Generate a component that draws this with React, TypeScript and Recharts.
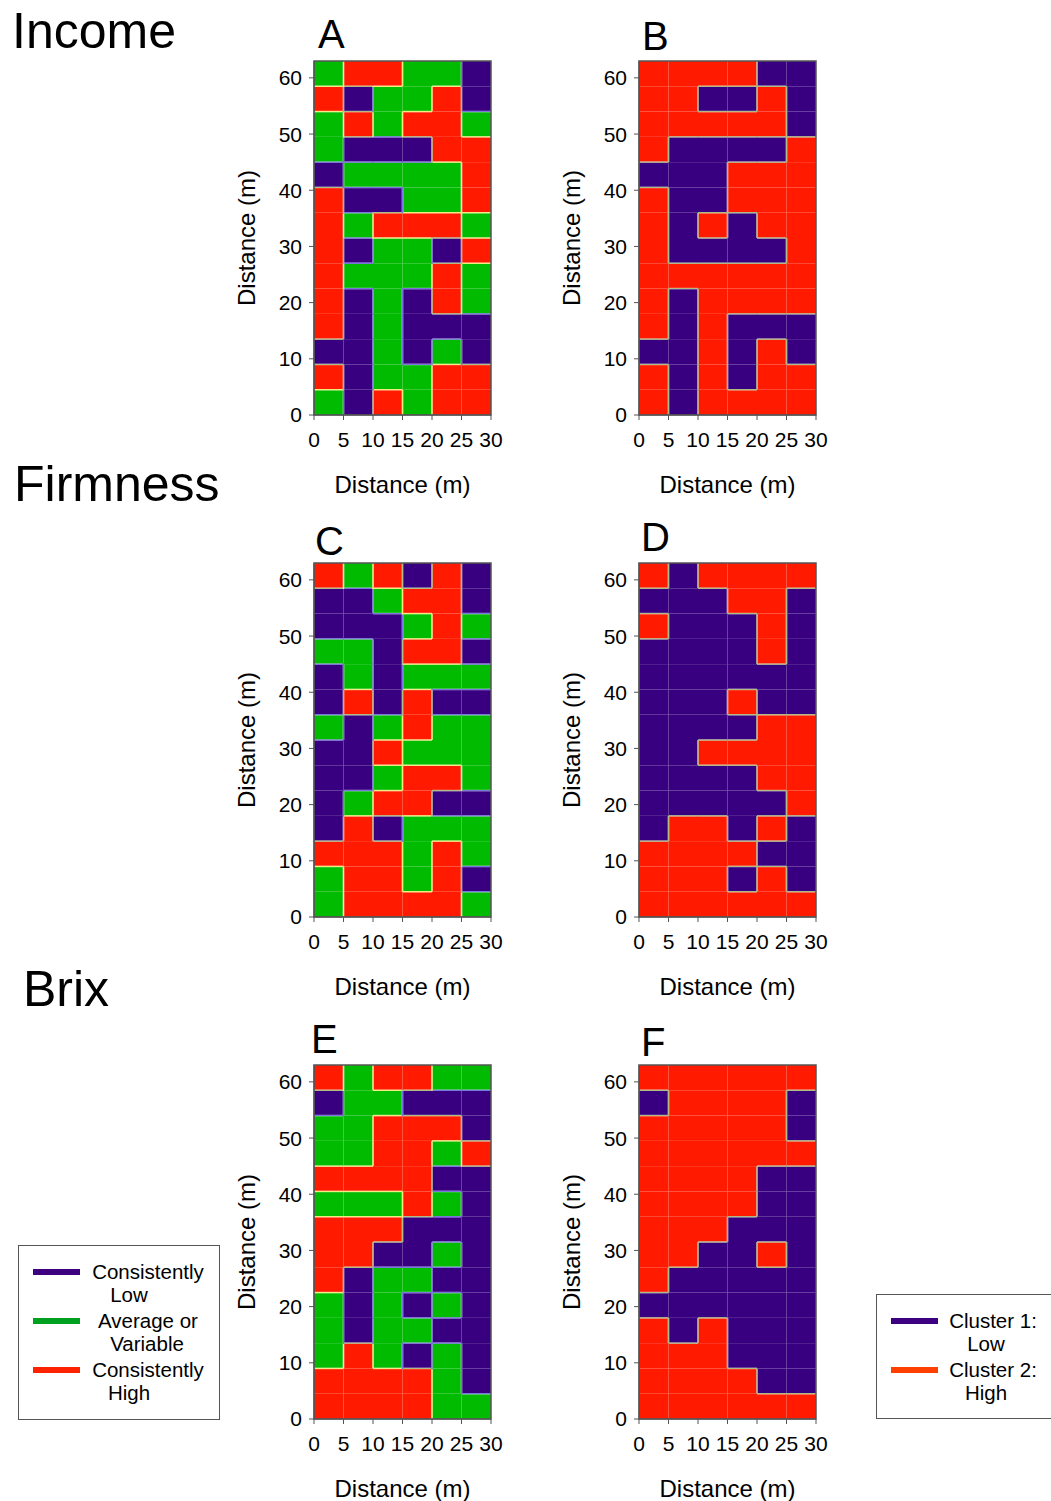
import { ScatterChart, Scatter, XAxis, YAxis, ReferenceArea } from 'recharts';

// codes: L = consistently low / cluster 1, A = average or variable, H = consistently high / cluster 2
// each string is one 4.5 m row, listed from the top row (58.5-63 m) down to the bottom row (0-4.5 m)
const incomeMeans = ['AHHAAL', 'HLAAHL', 'AHAHHA', 'ALLLHH', 'LAAAAH', 'HLLAAH', 'HAHHHA', 'HLAALH', 'HAAAHA', 'HLALHA', 'HLALLL', 'LLALAL', 'HLAAHH', 'ALHAHH'];
const incomeClusters = ['HHHHLL', 'HHLLHL', 'HHHHHL', 'HLLLLH', 'LLLHHH', 'HLLHHH', 'HLHLHH', 'HLLLLH', 'HHHHHH', 'HLHHHH', 'HLHLLL', 'LLHLHL', 'HLHLHH', 'HLHHHH'];
const firmnessMeans = ['HAHLHL', 'LLAHHL', 'LLLAHA', 'AALHHL', 'LALAAA', 'LHLHLL', 'ALAHAA', 'LLHAAA', 'LLAHHA', 'LAHHLL', 'LHLAAA', 'HHHAHA', 'AHHAHL', 'AHHHHA'];
const firmnessClusters = ['HLHHHH', 'LLLHHL', 'HLLLHL', 'LLLLHL', 'LLLLLL', 'LLLHLL', 'LLLLHH', 'LLHHHH', 'LLLLHH', 'LLLLLH', 'LHHLHL', 'HHHHLL', 'HHHLHL', 'HHHHHH'];
const brixMeans = ['HAHHAA', 'LAALLL', 'AAHHHL', 'AAHHAH', 'HHHHLL', 'AAAHAL', 'HHHLLL', 'HHLLAL', 'HLAALL', 'ALALAL', 'ALAALL', 'AHALAL', 'HHHHAL', 'HHHHAA'];
const brixClusters = ['HHHHHH', 'LHHHHL', 'HHHHHL', 'HHHHHH', 'HHHHLL', 'HHHHLL', 'HHHLLL', 'HHLLHL', 'HLLLLL', 'LLLLLL', 'HLHLLL', 'HHHLLL', 'HHHHLL', 'HHHHHH'];

const CELL_W = 5;
const CELL_H = 4.5;
const xTicks = [0, 5, 10, 15, 20, 25, 30];
const yTicks = [0, 10, 20, 30, 40, 50, 60];

const meanLegend = [
  { code: 'L', lines: ['Consistently', 'Low'] },
  { code: 'A', lines: ['Average or', 'Variable'] },
  { code: 'H', lines: ['Consistently', 'High'] },
];
const clusterLegend = [
  { code: 'L', lines: ['Cluster 1:', 'Low'] },
  { code: 'H', lines: ['Cluster 2:', 'High'] },
];

const COLORS: Record<string, string> = { L: '#380080', A: '#00bb00', H: '#ff1a00' };
const EDGE: Record<string, string> = { AL: '#7878e0', LA: '#7878e0', AH: '#f4ec7c', HA: '#f4ec7c', LH: '#b0bc84', HL: '#b0bc84' };
const FONT = '"Liberation Sans", Arial, sans-serif';
const HALF = 0.13; // half thickness of a boundary strip, in data units

const toCells = (rows: string[]) => {
  const n = rows.length;
  const m = rows[0].length;
  const at = (c: number, r: number) => rows[n - 1 - r][c];
  const cells: { x: number; y: number; code: string; x1: number; x2: number; y1: number; y2: number }[] = [];
  for (let r = 0; r < n; r++) {
    for (let c = 0; c < m; c++) {
      const code = at(c, r);
      // leave a thin gap on every side that borders another class, the boundary strip fills it
      const gl = c > 0 && at(c - 1, r) !== code ? HALF : 0;
      const gr = c + 1 < m && at(c + 1, r) !== code ? HALF : 0;
      const gb = r > 0 && at(c, r - 1) !== code ? HALF : 0;
      const gt = r + 1 < n && at(c, r + 1) !== code ? HALF : 0;
      cells.push({
        x: c * CELL_W + CELL_W / 2,
        y: r * CELL_H + CELL_H / 2,
        code,
        x1: c * CELL_W + gl,
        x2: (c + 1) * CELL_W - gr,
        y1: r * CELL_H + gb,
        y2: (r + 1) * CELL_H - gt,
      });
    }
  }
  return cells;
};

// boundaries between neighbouring cells of a different class
const toEdges = (rows: string[]) => {
  const n = rows.length;
  const m = rows[0].length;
  const at = (c: number, r: number) => rows[n - 1 - r][c];
  const edges: { x1: number; y1: number; x2: number; y2: number; pair: string }[] = [];
  for (let r = 0; r < n; r++) {
    for (let c = 0; c < m; c++) {
      if (c + 1 < m && at(c, r) !== at(c + 1, r)) {
        const bx = (c + 1) * CELL_W;
        edges.push({ x1: bx - HALF, x2: bx + HALF, y1: r * CELL_H - HALF, y2: (r + 1) * CELL_H + HALF, pair: at(c, r) + at(c + 1, r) });
      }
      if (r + 1 < n && at(c, r) !== at(c, r + 1)) {
        const by = (r + 1) * CELL_H;
        edges.push({ x1: c * CELL_W - HALF, x2: (c + 1) * CELL_W + HALF, y1: by - HALF, y2: by + HALF, pair: at(c, r) + at(c, r + 1) });
      }
    }
  }
  return edges;
};

const GridPanel = ({ rows, left, top }: { rows: string[]; left: number; top: number }) => {
  const cells = toCells(rows);
  const edges = toEdges(rows);
  const yMax = rows.length * CELL_H;
  const xMax = rows[0].length * CELL_W;
  return (
    <div style={{ position: 'absolute', left, top }}>
      <ScatterChart width={281} height={465} margin={{ top: 21, right: 20, bottom: 10, left: 0 }}>
        <XAxis
          type="number"
          dataKey="x"
          domain={[0, xMax]}
          ticks={xTicks}
          height={80}
          tickSize={5}
          tickMargin={12}
          interval={0}
          stroke="#555"
          tick={{ fill: '#000', fontSize: 21 }}
          label={{ value: 'Distance (m)', position: 'insideBottom', offset: 2, style: { fill: '#000', fontSize: 24 } }}
        />
        <YAxis
          type="number"
          dataKey="y"
          domain={[0, yMax]}
          ticks={yTicks}
          width={84}
          tickSize={5}
          tickMargin={7}
          interval={0}
          stroke="#555"
          tick={{ fill: '#000', fontSize: 21 }}
          label={{ value: 'Distance (m)', angle: -90, position: 'center', dx: -26, style: { fill: '#000', fontSize: 24, textAnchor: 'middle' } }}
        />
        {edges.map((e, i) => (
          <ReferenceArea
            key={`e${i}`}
            x1={e.x1}
            x2={e.x2}
            y1={e.y1}
            y2={e.y2}
            fill={EDGE[e.pair]}
            fillOpacity={1}
            stroke="none"
            ifOverflow="hidden"
          />
        ))}
        {cells.map((d, i) => (
          <ReferenceArea
            key={`c${i}`}
            x1={d.x1}
            x2={d.x2}
            y1={d.y1}
            y2={d.y2}
            fill={COLORS[d.code]}
            fillOpacity={1}
            stroke="none"
          />
        ))}
        <ReferenceArea x1={0} x2={xMax} y1={0} y2={yMax} fill="none" fillOpacity={0} stroke="#555" strokeWidth={1.5} />
        <Scatter data={cells} isAnimationActive={false} shape={() => <g />} />
      </ScatterChart>
    </div>
  );
};

const panels = [
  { rows: incomeMeans, letter: 'A', left: 230, top: 40, lx: 318, ly: 48 },
  { rows: incomeClusters, letter: 'B', left: 555, top: 40, lx: 642, ly: 50 },
  { rows: firmnessMeans, letter: 'C', left: 230, top: 542, lx: 315, ly: 555 },
  { rows: firmnessClusters, letter: 'D', left: 555, top: 542, lx: 641, ly: 551 },
  { rows: brixMeans, letter: 'E', left: 230, top: 1044, lx: 311, ly: 1053 },
  { rows: brixClusters, letter: 'F', left: 555, top: 1044, lx: 641, ly: 1056 },
];

const titles = [
  { text: 'Income', x: 12, y: 48 },
  { text: 'Firmness', x: 14, y: 501 },
  { text: 'Brix', x: 23, y: 1006 },
];

export default function App() {
  return (
    <div style={{ position: 'absolute', left: 0, top: 0, width: 1051, height: 1501, background: '#fff', fontFamily: FONT }}>
      <svg width={1051} height={1501} style={{ position: 'absolute', left: 0, top: 0 }} fontFamily={FONT}>
        {titles.map((t) => (
          <text key={t.text} x={t.x} y={t.y} fontSize={50} fill="#000">{t.text}</text>
        ))}
        {panels.map((p) => (
          <text key={p.letter} x={p.lx} y={p.ly} fontSize={40} fill="#000">{p.letter}</text>
        ))}

        <rect x={18.5} y={1245.5} width={201} height={174} fill="#fff" stroke="#555" />
        {meanLegend.map((item, i) => (
          <g key={item.code}>
            <line x1={33} x2={80} y1={1272 + i * 49} y2={1272 + i * 49} stroke={item.code === 'A' ? '#00a020' : item.code === 'L' ? '#3c0080' : '#ff2200'} strokeWidth={6} />
            <text x={148} y={1279 + i * 49} fontSize={20.5} textAnchor="middle" fill="#000">{item.lines[0]}</text>
            <text x={item.code === 'A' ? 147 : 129} y={1302 + i * 49} fontSize={20.5} textAnchor="middle" fill="#000">{item.lines[1]}</text>
          </g>
        ))}

        <rect x={876.5} y={1294.5} width={190} height={124} fill="#fff" stroke="#555" />
        {clusterLegend.map((item, i) => (
          <g key={item.code}>
            <line x1={891} x2={938} y1={1321 + i * 49} y2={1321 + i * 49} stroke={item.code === 'L' ? '#3c0080' : '#ff4000'} strokeWidth={6} />
            <text x={993} y={1328 + i * 49} fontSize={20.5} textAnchor="middle" fill="#000">{item.lines[0]}</text>
            <text x={986} y={1351 + i * 49} fontSize={20.5} textAnchor="middle" fill="#000">{item.lines[1]}</text>
          </g>
        ))}
      </svg>
      {panels.map((p) => (
        <GridPanel key={p.letter} rows={p.rows} left={p.left} top={p.top} />
      ))}
    </div>
  );
}
